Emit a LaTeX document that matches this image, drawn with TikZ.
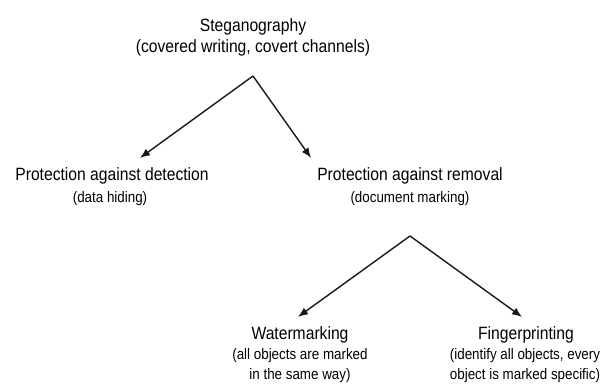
\documentclass[tikz,border=0pt]{standalone}
\usepackage{fontspec}
\setmainfont[FakeStretch=0.88]{Liberation Sans}
\usetikzlibrary{arrows.meta}

\tikzset{
	title/.style={font=\fontsize{17.8}{21}\selectfont, inner xsep=2pt, inner ysep=9pt, anchor=base, text=black},
	subtitle/.style={font=\fontsize{15.2}{20}\selectfont, inner sep=2pt, anchor=base, align=center, text=black},
	branch/.style={line width=1.4pt, draw=black!90, -{Latex[length=10pt,width=8pt]}},
}

\begin{document}
\begin{tikzpicture}[x=1pt, y=-1pt]
		\useasboundingbox (0,0) rectangle (616,383);

		% Root (base anchor sits on the last line).
		\node[title, align=center] (steg) at (253,52) {Steganography\\(covered writing, covert channels)};

		% First level.
		\node[title] (detect) at (112,180) {Protection against detection};
		\node[subtitle] (detect sub) at (110,202) {(data hiding)};
		\node[title] (removal) at (410,180) {Protection against removal};
		\node[subtitle] (removal sub) at (410,202) {(document marking)};

		% Second level.
		\node[title] (water) at (300,339) {Watermarking};
		\node[subtitle] (water sub) at (300,379) {(all objects are marked\\in the same way)};
		\node[title] (finger) at (526,339) {Fingerprinting};
		\node[subtitle] (finger sub) at (525,379) {(identify all objects, every\\object is marked specific)};

		% Branch points.
		\coordinate (splitA) at (253,76);
		\coordinate (splitB) at (410,236);

		\draw[branch] (splitA) -- ([xshift=28pt]detect.north);
		\draw[branch] (splitA) -- ([xshift=-99pt]removal.north);
		\draw[branch] (splitB) -- ([xshift=-2pt]water.north);
		\draw[branch] (splitB) -- ([xshift=-4pt]finger.north);
	\end{tikzpicture}
\end{document}
